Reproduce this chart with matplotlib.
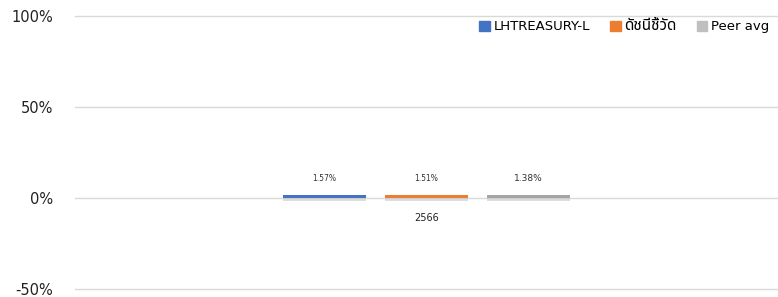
import matplotlib
matplotlib.use("Agg")
import matplotlib.pyplot as plt
import matplotlib.patheffects as pe
from matplotlib import font_manager as fm
import numpy as np

categories = ["2566"]
series_names = ["LHTREASURY-L", "ดัชนีชี้วัด", "Peer avg"]
series_values = [[1.57], [1.51], [1.38]]
colors = ["#4472C4", "#ED7D31", "#A5A5A5"]
legend_colors = ["#4472C4", "#ED7D31", "#BFBFBF"]
yticks = [-50, 0, 50, 100]

available = {f.name for f in fm.fontManager.ttflist}
thai_font = None
for cand in ["Noto Sans Thai", "Noto Sans Thai UI", "Sarabun", "IBM Plex Sans Thai",
             "Prompt", "Kanit", "Bai Jamjuree", "Athiti", "Chakra Petch", "Anuphan"]:
    if cand in available:
        thai_font = cand
        break
families = ['DejaVu Sans'] + ([thai_font] if thai_font else [])
plt.rcParams['font.family'] = families

fig = plt.figure(figsize=(7.78, 2.97), dpi=100)
ax = fig.add_axes([75/778, 8/297, 703/778, 273/297])

x = np.arange(len(categories))
width = 0.117
step = 0.145
for i, (name, vals) in enumerate(zip(series_names, series_values)):
    pos = x + (i - 1) * step
    bars = ax.bar(pos, vals, width=width, color=colors[i], label=name, zorder=3,
                  path_effects=[pe.SimplePatchShadow(offset=(0, -2), shadow_rgbFace='#C8C8C8', alpha=0.6), pe.Normal()])
    for b, v in zip(bars, vals):
        ax.annotate(f"{v:.2f}%", (b.get_x() + b.get_width()/2, v), xytext=(0, 12),
                    textcoords='offset pixels', ha='center', va='bottom',
                    fontsize=5.5 if i < 2 else 6.5, color='#333333')

ax.set_xlim(-0.5, 0.5)
ax.set_ylim(-50, 100)
ax.spines['bottom'].set_position(('data', 0))
ax.set_yticks(yticks)
ax.set_yticklabels([f"{t}%" for t in yticks])
ax.set_xticks(x)
ax.set_xticklabels(categories)
ax.tick_params(axis='y', length=0, pad=16, labelsize=10.5, labelcolor='#222222')
ax.tick_params(axis='x', length=0, pad=11, labelsize=7, labelcolor='#222222')
ax.grid(axis='y', color='#D9D9D9', linewidth=1, zorder=0)
for gl in ax.get_ygridlines():
    gl.set_clip_on(False)
for s in ax.spines.values():
    s.set_visible(False)

handles = [plt.Rectangle((0, 0), 1, 1, color=c) for c in legend_colors]
leg = fig.legend(handles, series_names, loc='upper left', bbox_to_anchor=(474/778, 1 - 13/297),
                 ncol=3, frameon=False, fontsize=9.5, handlelength=0.8, handleheight=0.8,
                 handletextpad=0.3, columnspacing=1.5, borderaxespad=0)
leg.get_texts()[1].set_fontsize(11)

fig.savefig("out.png", dpi=100)
